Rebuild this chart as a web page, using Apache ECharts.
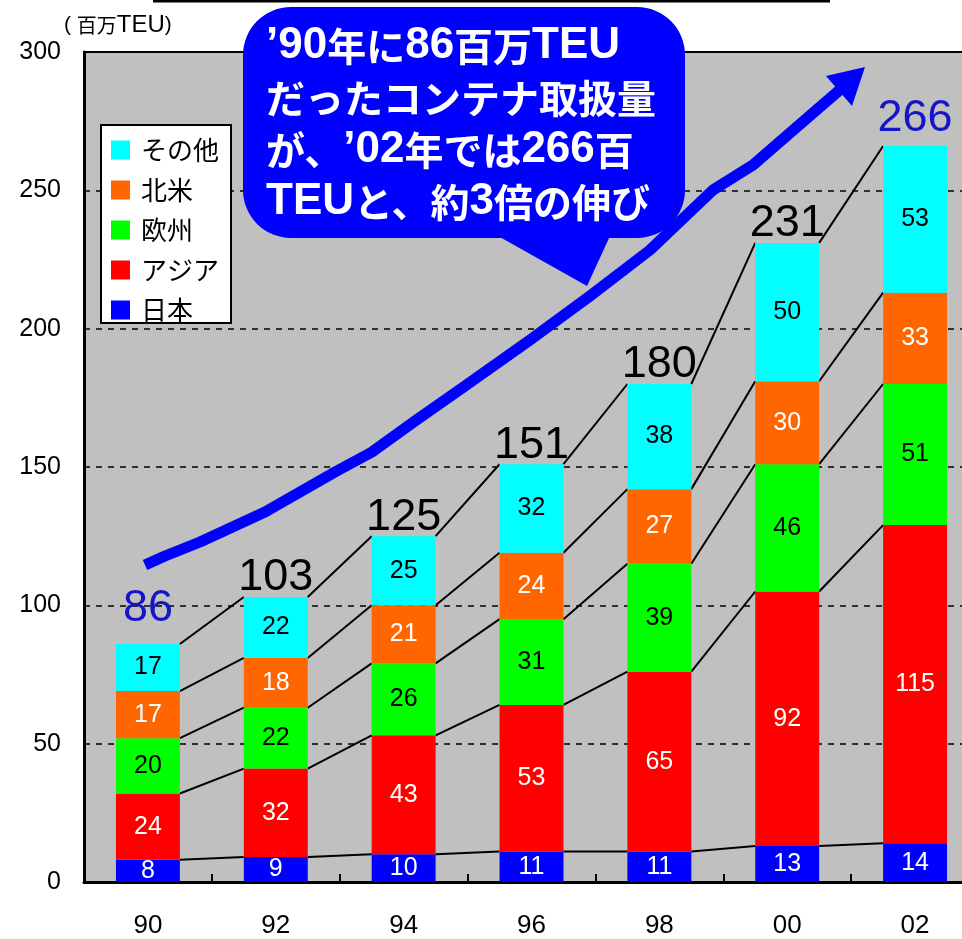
<!DOCTYPE html>
<html>
<head>
<meta charset="utf-8">
<script src="https://cdn.jsdelivr.net/npm/echarts@6/dist/echarts.min.js"></script>
<style>
  html, body { margin: 0; padding: 0; background: #fff; }
  #chart { width: 962px; height: 939px; }
</style>
</head>
<body>
<div id="chart"></div>
<script>
// Container throughput by region, millions of TEU
const years = ['90', '92', '94', '96', '98', '00', '02'];
const japan = [8, 9, 10, 11, 11, 13, 14];
const asia = [24, 32, 43, 53, 65, 92, 115];
const europe = [20, 22, 26, 31, 39, 46, 51];
const northAmerica = [17, 18, 21, 24, 27, 30, 33];
const others = [17, 22, 25, 32, 38, 50, 53];
const yTicks = [0, 50, 100, 150, 200, 250, 300];

const seriesDefs = [
  { name: '日本', values: japan, color: '#0000ff', text: '#ffffff' },
  { name: 'アジア', values: asia, color: '#ff0000', text: '#ffffff' },
  { name: '欧州', values: europe, color: '#00ff00', text: '#000000' },
  { name: '北米', values: northAmerica, color: '#ff6600', text: '#ffffff' },
  { name: 'その他', values: others, color: '#00ffff', text: '#000000' }
];

// Totals per year (sum of the stacked segments)
const totals = years.map((_, i) => seriesDefs.reduce((s, d) => s + d.values[i], 0));
// Running tops of each stacked segment, used for the connector lines
const cumulative = years.map((_, i) => {
  let acc = 0;
  return seriesDefs.map(d => (acc += d.values[i]));
});

const latin = "'Liberation Sans', Arial, 'Noto Sans CJK JP', sans-serif";
const jp = "'Noto Sans CJK JP', 'Liberation Sans', sans-serif";

const chart = echarts.init(document.getElementById('chart'), null, { renderer: 'canvas' });

const barSeries = seriesDefs.map(d => ({
  name: d.name,
  type: 'bar',
  stack: 'total',
  barWidth: '50%',
  data: d.values,
  itemStyle: { color: d.color },
  z: 3,
  label: {
    show: true,
    position: 'inside',
    color: d.text,
    fontFamily: latin,
    fontSize: 25
  }
}));

// Lines joining each segment top to the same segment of the next bar
const connectorSeries = {
  type: 'custom',
  name: 'connectors',
  z: 2,
  silent: true,
  data: years.slice(0, -1).map((_, i) => [i]),
  renderItem: function (params, api) {
    const i = api.value(0);
    const half = api.size([1, 0])[0] * 0.25;
    const children = cumulative[i].map((v, k) => {
      const p0 = api.coord([i, v]);
      const p1 = api.coord([i + 1, cumulative[i + 1][k]]);
      return {
        type: 'line',
        shape: { x1: p0[0] + half, y1: p0[1], x2: p1[0] - half, y2: p1[1] },
        style: { stroke: '#000', lineWidth: 2 }
      };
    });
    return { type: 'group', children: children };
  }
};

const totalSeries = {
  type: 'scatter',
  name: 'total',
  symbolSize: 1,
  itemStyle: { color: 'rgba(0,0,0,0)', opacity: 1 },
  z: 4,
  data: totals.map((t, i) => {
    const item = { value: t };
    if (i === 0 || i === totals.length - 1) {
      item.label = { color: '#1414c8' };
    }
    if (i === 0) item.label.distance = 12;
    if (i === totals.length - 1) item.label.distance = 4;
    return item;
  }),
  label: {
    show: true,
    position: 'top',
    distance: -4,
    color: '#000',
    fontFamily: latin,
    fontSize: 45
  }
};

// Growth arrow and speech bubble
const arrowPts = [[145, 565], [165, 556], [200, 542], [265, 512], [335, 472], [372, 452],
  [415, 421], [465, 386], [530, 340], [590, 296], [650, 250], [713, 190], [753, 165],
  [813, 113], [842, 88]];

const bubbleText = [
  '{a|’90}{j|年に}{a|86}{j|百万}{a|TEU}',
  '{j|だったコンテナ取扱量}',
  '{j|が、}{a|’02}{j|年では}{a|266}{j|百}',
  '{a|TEU}{j|と、約}{a|3}{j|倍の伸び}'
].join('\n');

const option = {
  animation: false,
  backgroundColor: '#ffffff',
  grid: {
    left: 84, top: 52, width: 895, height: 830,
    outerBoundsMode: 'none', containLabel: false,
    show: true, backgroundColor: '#c0c0c0', borderColor: '#000', borderWidth: 2
  },
  legend: {
    data: ['その他', '北米', '欧州', 'アジア', '日本'],
    orient: 'vertical',
    left: 101,
    top: 125,
    icon: 'rect',
    itemWidth: 19,
    itemHeight: 19,
    itemGap: 14,
    padding: [12, 12, 0, 10],
    backgroundColor: '#ffffff',
    borderColor: '#000',
    borderWidth: 2,
    selectedMode: false,
    textStyle: { fontFamily: jp, fontSize: 26, color: '#000', padding: [0, 0, 0, 6] }
  },
  xAxis: {
    type: 'category',
    data: years,
    axisLine: { lineStyle: { color: '#000', width: 3 } },
    axisTick: { show: true, inside: true, length: 8, lineStyle: { color: '#000', width: 2 } },
    axisLabel: { color: '#000', fontFamily: latin, fontSize: 26, margin: 31 }
  },
  yAxis: {
    type: 'value',
    min: yTicks[0],
    max: yTicks[yTicks.length - 1],
    interval: yTicks[1] - yTicks[0],
    axisLine: { show: true, lineStyle: { color: '#000', width: 3 } },
    axisTick: { show: false },
    axisLabel: { color: '#000', fontFamily: latin, fontSize: 25, margin: 23 },
    splitLine: { show: true, lineStyle: { color: '#000', width: 1.5, type: [6, 6] } }
  },
  series: [connectorSeries].concat(barSeries, [totalSeries]),
  graphic: [
    { type: 'line', shape: { x1: 153, y1: 1, x2: 830, y2: 1 }, style: { stroke: '#000', lineWidth: 3 }, z: 100 },
    {
      type: 'text', left: 64, top: 13, z: 100,
      style: {
        text: '{p|( }{j|百万}{a|TEU}{p|)}',
        fill: '#000',
        rich: {
          p: { fontFamily: latin, fontSize: 21, fill: '#000' },
          j: { fontFamily: jp, fontSize: 20, fill: '#000' },
          a: { fontFamily: latin, fontSize: 24, fill: '#000' }
        }
      }
    },
    { type: 'polyline', shape: { points: arrowPts }, style: { stroke: '#0000ff', lineWidth: 11, lineJoin: 'round', fill: null }, z: 100 },
    { type: 'polygon', shape: { points: [[865, 67], [826, 76], [852, 106]] }, style: { fill: '#0000ff' }, z: 100 },
    { type: 'rect', shape: { x: 243, y: 7, width: 442, height: 231, r: 48 }, style: { fill: '#0000ff' }, z: 101 },
    { type: 'polygon', shape: { points: [[498, 236], [610, 236], [587, 286]] }, style: { fill: '#0000ff' }, z: 101 },
    {
      type: 'text', left: 266, top: 20, z: 102,
      style: {
        text: bubbleText,
        fill: '#ffffff',
        lineHeight: 52,
        rich: {
          a: { fontFamily: "'Liberation Sans', Arial, sans-serif", fontWeight: 'bold', fontSize: 44, lineHeight: 52, fill: '#ffffff' },
          j: { fontFamily: jp, fontWeight: 'bold', fontSize: 39, lineHeight: 52, fill: '#ffffff' }
        }
      }
    }
  ]
};

chart.setOption(option);
</script>
</body>
</html>
